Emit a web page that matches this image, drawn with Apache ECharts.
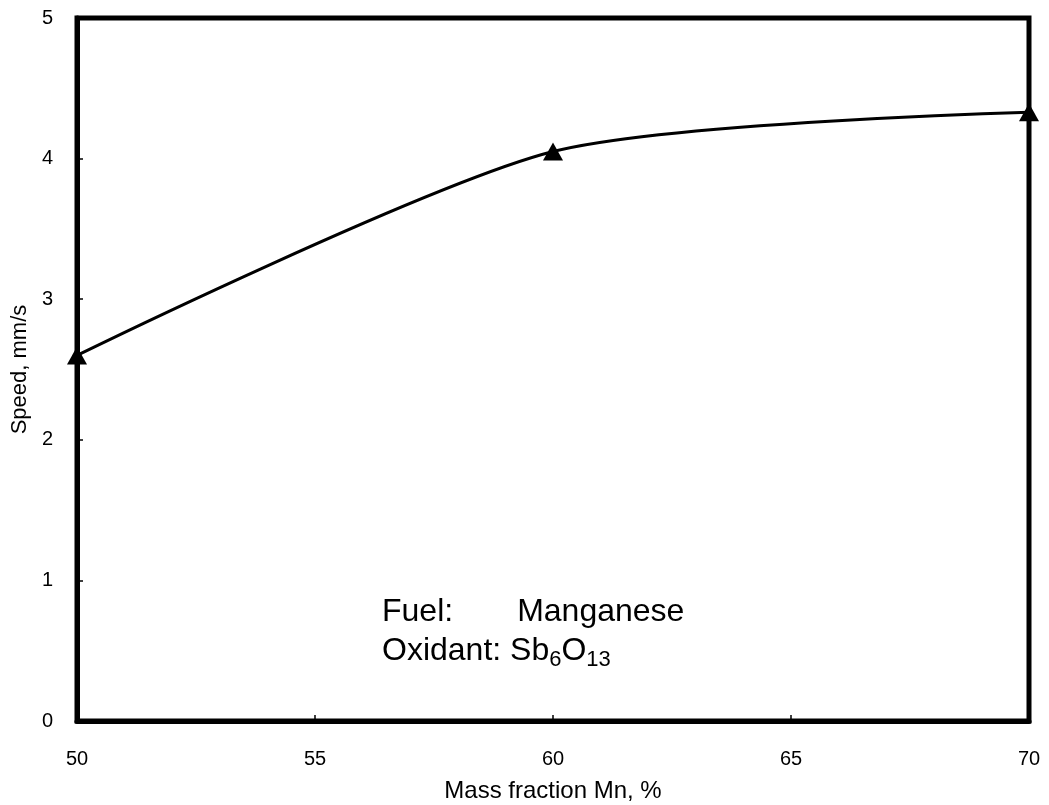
<!DOCTYPE html>
<html><head><meta charset="utf-8">
<script src="https://cdn.jsdelivr.net/npm/echarts@6/dist/echarts.min.js"></script>
<style>html,body{margin:0;padding:0;background:#fff}#c{width:1049px;height:805px}</style>
</head><body><div id="c"></div>
<script>
const massFraction = [50, 60, 70];
const speed = [2.6, 4.05, 4.33];
const xTicks = [50, 55, 60, 65, 70];
const yTicks = [0, 1, 2, 3, 4, 5];

const chart = echarts.init(document.getElementById('c'));
const font = 'Liberation Sans, Arial, sans-serif';
chart.setOption({
  animation: false,
  backgroundColor: '#fff',
  grid: {left: 77, right: 20, top: 18, bottom: 84, outerBoundsMode: 'none', containLabel: false,
         show: true, borderColor: '#000', borderWidth: 5},
  xAxis: {
    type: 'value', min: 50, max: 70, interval: 5,
    name: 'Mass fraction Mn, %', nameLocation: 'middle', nameGap: 58,
    nameTextStyle: {fontFamily: font, fontSize: 24, color: '#000'},
    axisLine: {show: true, lineStyle: {color: '#000', width: 5}},
    axisTick: {show: true, inside: true, length: 6, lineStyle: {color: '#000', width: 1.5}},
    axisLabel: {fontFamily: font, fontSize: 20, color: '#000', margin: 28},
    splitLine: {show: false}
  },
  yAxis: {
    type: 'value', min: 0, max: 5, interval: 1,
    name: 'Speed, mm/s', nameLocation: 'middle', nameGap: 42,
    nameTextStyle: {fontFamily: font, fontSize: 22, color: '#000'},
    axisLine: {show: true, lineStyle: {color: '#000', width: 5}},
    axisTick: {show: true, inside: true, length: 6, lineStyle: {color: '#000', width: 1.5}},
    axisLabel: {fontFamily: font, fontSize: 20, color: '#000', margin: 24},
    splitLine: {show: false}
  },
  series: [{
    type: 'line', smooth: 0.25,
    data: massFraction.map((x, i) => [x, speed[i]]),
    symbol: 'triangle', symbolSize: [20, 18],
    lineStyle: {color: '#000', width: 3},
    itemStyle: {color: '#000'},
    z: 10
  }],
  graphic: [{
    type: 'text', left: 382, top: 596,
    style: {
      text: '{a|Fuel:}{b|Manganese}\n{a|Oxidant: Sb}{s|6}{a|O}{s|13}',
      rich: {
        a: {fontFamily: font, fontSize: 32, fill: '#000', lineHeight: 39},
        b: {fontFamily: font, fontSize: 32, fill: '#000', lineHeight: 39, padding: [0, 0, 0, 64]},
        s: {fontFamily: font, fontSize: 22, fill: '#000', lineHeight: 39, verticalAlign: 'bottom', padding: [10, 0, 0, 0]}
      }
    }
  }]
});
</script></body></html>
